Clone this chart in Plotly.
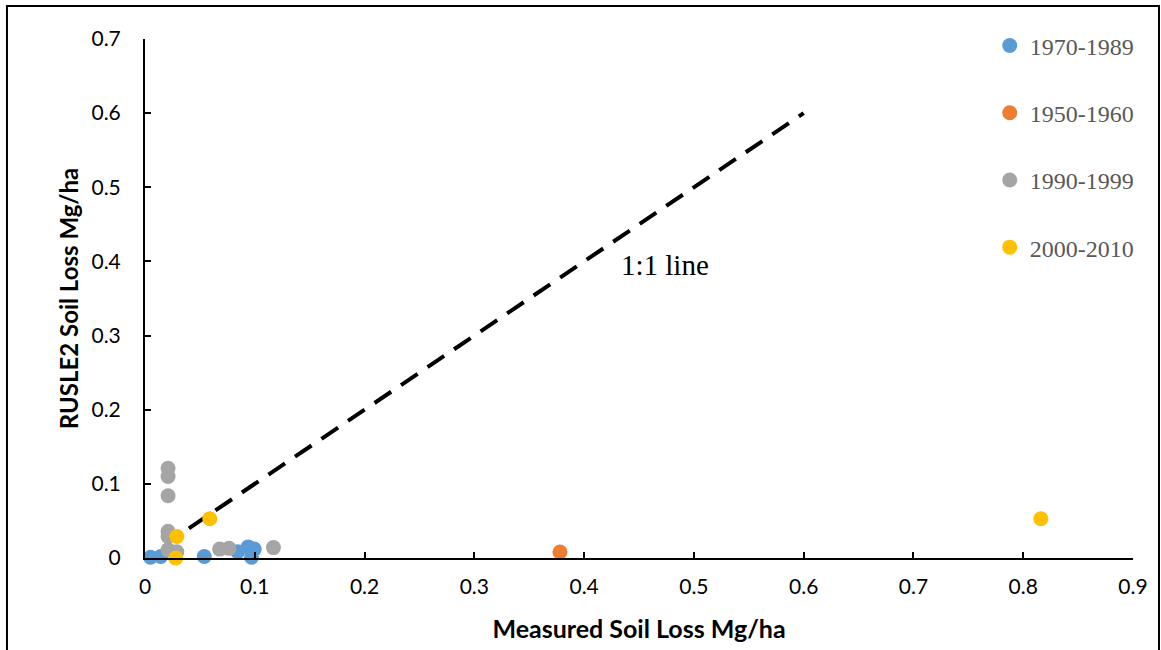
import plotly.graph_objects as go

# Measured vs RUSLE2-predicted soil loss (Mg/ha), grouped by period
period_names = ["1970-1989", "1950-1960", "1990-1999", "2000-2010"]
period_colors = ["#5B9BD5", "#ED7D31", "#A5A5A5", "#FFC000"]

measured_1970_1989 = [0.005, 0.0143, 0.054, 0.0844, 0.094, 0.0995, 0.097]
rusle2_1970_1989 = [0.001, 0.002, 0.002, 0.0085, 0.015, 0.012, 0.001]

measured_1950_1960 = [0.378]
rusle2_1950_1960 = [0.008]

measured_1990_1999 = [0.021, 0.021, 0.021, 0.021, 0.021, 0.021, 0.029, 0.068, 0.0765, 0.117]
rusle2_1990_1999 = [0.121, 0.110, 0.084, 0.036, 0.029, 0.011, 0.0085, 0.012, 0.013, 0.014]

measured_2000_2010 = [0.028, 0.029, 0.059, 0.816]
rusle2_2000_2010 = [0.0, 0.029, 0.053, 0.053]

one_to_one = [0.04, 0.6]

x_ticks = [0, 0.1, 0.2, 0.3, 0.4, 0.5, 0.6, 0.7, 0.8, 0.9]
y_ticks = [0, 0.1, 0.2, 0.3, 0.4, 0.5, 0.6, 0.7]

series = [
    (measured_1970_1989, rusle2_1970_1989),
    (measured_1950_1960, rusle2_1950_1960),
    (measured_1990_1999, rusle2_1990_1999),
    (measured_2000_2010, rusle2_2000_2010),
]

fig = go.Figure()

fig.add_trace(go.Scatter(
    x=one_to_one, y=one_to_one, mode="lines",
    line=dict(color="black", width=4, dash="20px,12px"),
    showlegend=False, hoverinfo="skip",
))

for name, color, (xs, ys) in zip(period_names, period_colors, series):
    fig.add_trace(go.Scatter(
        x=xs, y=ys, mode="markers", name=name, legendgroup=name,
        marker=dict(color=color, size=15, line=dict(width=0)),
        cliponaxis=False,
    ))

fig.add_annotation(
    x=0.474, y=0.395, xref="x", yref="y", text="1:1 line", showarrow=False,
    font=dict(family="Liberation Serif", size=29, color="black"),
)

# Outer frame around the chart
fig.add_shape(
    type="rect", xref="paper", yref="paper",
    x0=-0.1397, x1=1.0263, y0=-0.25, y1=1.0636,
    line=dict(color="black", width=2), fillcolor="rgba(0,0,0,0)", layer="below",
)

axis_common = dict(
    showline=True, linecolor="black", linewidth=2,
    ticks="inside", ticklen=6, tickwidth=1.5, tickcolor="black",
    showgrid=False, zeroline=False,
    tickfont=dict(family="Lato", size=21, color="black"),
)

fig.update_layout(
    width=1161, height=650,
    margin=dict(l=145, r=28, t=39, b=92),
    paper_bgcolor="white", plot_bgcolor="white",
    xaxis=dict(
        range=[0, 0.9], tickvals=x_ticks, ticktext=[f"{v:g}" for v in x_ticks],
        title=dict(text="<b>Measured Soil Loss Mg/ha</b>", standoff=23,
                   font=dict(family="Lato", size=25, color="black")),
        ticklabelstandoff=9,
        **axis_common,
    ),
    yaxis=dict(
        range=[0, 0.7], tickvals=y_ticks, ticktext=[f"{v:g}" for v in y_ticks],
        title=dict(text="<b>RUSLE2 Soil Loss Mg/ha</b>", standoff=6,
                   font=dict(family="Lato", size=24, color="black")),
        ticklabelstandoff=18,
        **axis_common,
    ),
    legend=dict(
        x=0.855, y=1.03, xanchor="left", yanchor="top",
        font=dict(family="Liberation Serif", size=24, color="#595959"),
        tracegroupgap=33, itemwidth=30, bgcolor="rgba(0,0,0,0)",
    ),
)

fig.write_html("out.html")
